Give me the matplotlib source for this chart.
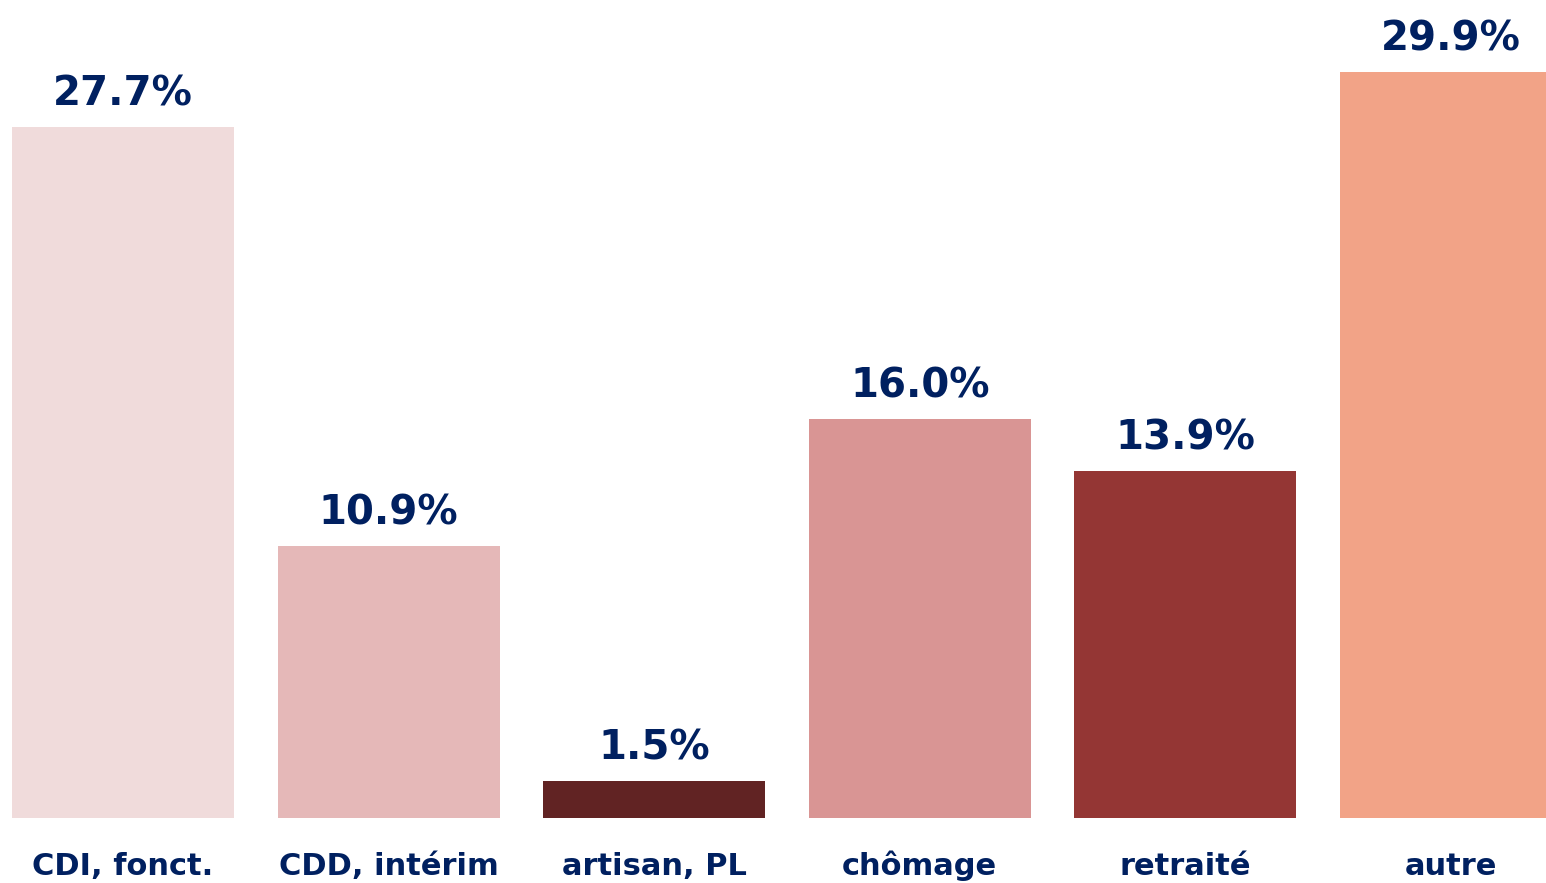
import matplotlib
matplotlib.use("Agg")
import matplotlib.pyplot as plt
import numpy as np

categories = ["CDI, fonct.", "CDD, intérim", "artisan, PL", "chômage", "retraité", "autre"]
values = [27.7, 10.9, 1.5, 16.0, 13.9, 29.9]
colors = ["#F0DBDB", "#E5B8B8", "#612323", "#D99594", "#943634", "#F2A387"]
text_color = "#002060"

plt.rcParams['font.family'] = ['DejaVu Sans']

fig = plt.figure(figsize=(15.46, 8.83), dpi=100)
ax = fig.add_axes([0, 65 / 883, 1, 818 / 883])

x = np.arange(len(categories))
ax.bar(x, values, width=0.836, color=colors)

for xi, v in zip(x, values):
    ax.text(xi, v + 0.5, f"{v:.1f}%", ha='center', va='bottom',
            fontsize=29, fontweight='bold', color=text_color)

ax.set_xlim(-0.463, 5.358)
ax.set_ylim(0, 32.78)
ax.set_xticks(x)
ax.set_xticklabels(categories, fontsize=22, fontweight='bold', color=text_color)
# put all category labels on a common baseline
for lbl in ax.get_xticklabels():
    lbl.set_va('baseline')
ax.tick_params(axis='x', length=0, pad=41)
ax.set_yticks([])
for s in ax.spines.values():
    s.set_visible(False)

plt.savefig("out.png", dpi=100)
